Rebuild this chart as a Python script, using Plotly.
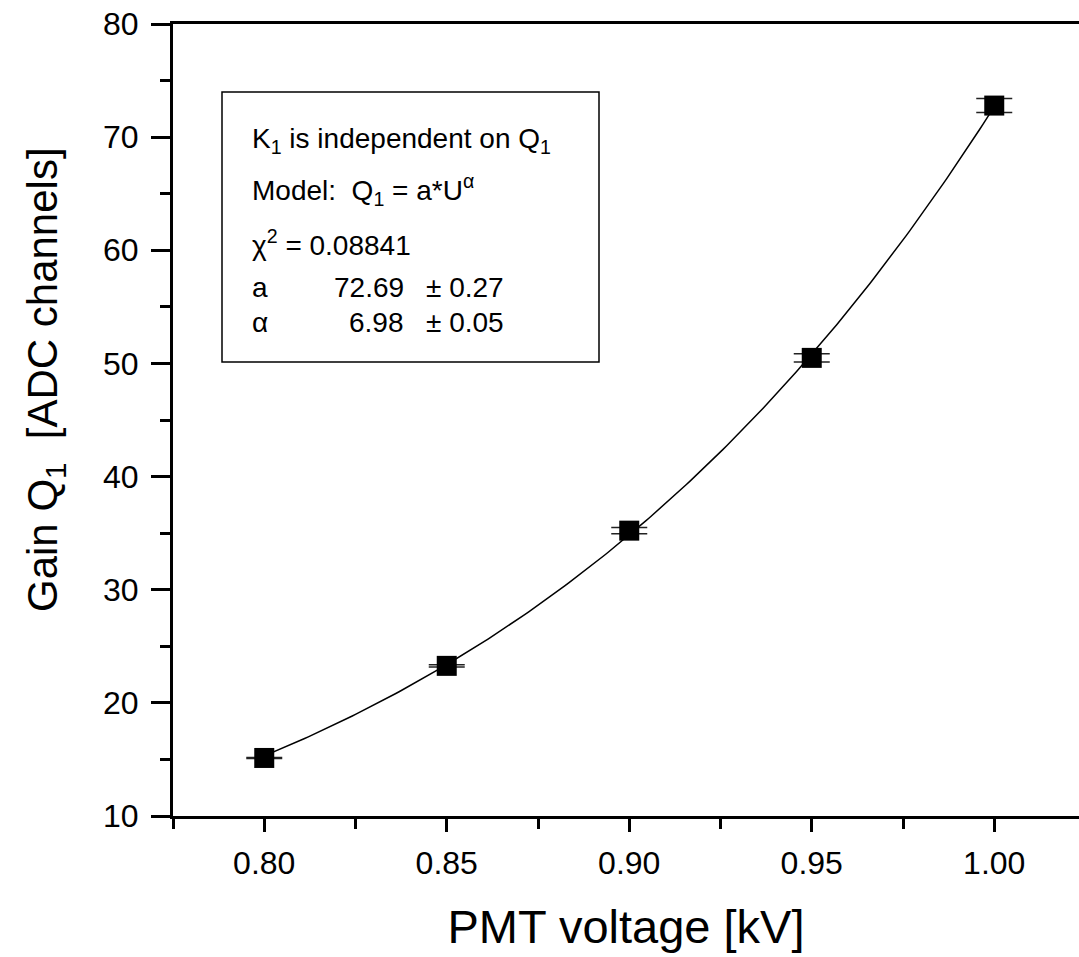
import numpy as np
import plotly.graph_objects as go

# Measured gain vs. PMT high voltage
voltage_kv = [0.80, 0.85, 0.90, 0.95, 1.00]
gain_q1 = [15.13, 23.27, 35.22, 50.49, 72.79]
gain_err = [0.05, 0.10, 0.27, 0.37, 0.62]

# Power-law fit parameters Q1 = a * U^alpha
fit_a = 72.69
fit_a_err = 0.27
fit_alpha = 6.98
fit_alpha_err = 0.05
fit_chi2 = 0.08841

x_ticks = [0.80, 0.85, 0.90, 0.95, 1.00]
x_ticktext = ["0.80", "0.85", "0.90", "0.95", "1.00"]
y_ticks = [10, 20, 30, 40, 50, 60, 70, 80]

FONT = "Liberation Sans, Arial, Helvetica, sans-serif"

u_fit = np.linspace(voltage_kv[0], voltage_kv[-1], 200)
q_fit = fit_a * u_fit ** fit_alpha

fig = go.Figure()
fig.add_trace(go.Scatter(
    x=u_fit, y=q_fit, mode="lines",
    line=dict(color="black", width=1.5),
    hoverinfo="skip", showlegend=False,
))
fig.add_trace(go.Scatter(
    x=voltage_kv, y=gain_q1, mode="markers",
    marker=dict(symbol="square", size=20, color="black", line=dict(width=0)),
    error_y=dict(type="data", array=gain_err, visible=True,
                 color="#222222", thickness=1.5, width=18),
    showlegend=False,
))

# plot-area geometry in pixels (used to place the text box)
L, R, T, B = 173, 1079, 24, 816
PW, PH = R - L, B - T


def px(xp):
    return (xp - L) / PW


def py(yp):
    return (B - yp) / PH


fig.add_shape(type="rect", xref="paper", yref="paper",
              x0=px(222), x1=px(599), y0=py(362), y1=py(92),
              line=dict(color="black", width=1.5), fillcolor="white", layer="below")

box_font = dict(family=FONT, size=28, color="black")
lines = [
    (140, "K<sub>1</sub> is independent on Q<sub>1</sub>"),
    (190, "Model:  Q<sub>1</sub> = a*U<sup>α</sup>"),
    (243, f"χ<sup>2</sup> = {fit_chi2:.5f}"),
    (287, "a"),
    (322, "α"),
]
for yc, txt in lines:
    fig.add_annotation(xref="paper", yref="paper", x=px(250), y=py(yc),
                       xanchor="left", yanchor="middle", text=txt,
                       showarrow=False, font=box_font)

for yc, val, err in [(287, fit_a, fit_a_err), (322, fit_alpha, fit_alpha_err)]:
    fig.add_annotation(xref="paper", yref="paper", x=px(406), y=py(yc),
                       xanchor="right", yanchor="middle", text=f"{val:.2f}",
                       showarrow=False, font=box_font)
    fig.add_annotation(xref="paper", yref="paper", x=px(424), y=py(yc),
                       xanchor="left", yanchor="middle", text=f"± {err:.2f}",
                       showarrow=False, font=box_font)

# y-axis title
fig.add_annotation(xref="paper", yref="paper", x=0, xshift=-(L - 45), y=py(380),
                   xanchor="center", yanchor="middle", textangle=-90,
                   text="Gain Q<sub>1</sub>&nbsp; [ADC channels]", showarrow=False,
                   font=dict(family=FONT, size=42, color="black"))

fig.update_layout(
    width=1079, height=957,
    margin=dict(l=L, r=1079 - R, t=T, b=957 - B),
    paper_bgcolor="white", plot_bgcolor="white",
    font=dict(family=FONT, color="black"),
)
fig.update_xaxes(
    range=[0.775, 0.775 + 0.05 * PW / 182.5],
    tickvals=x_ticks, ticktext=x_ticktext,
    ticks="outside", ticklen=13, tickwidth=3, tickcolor="black",
    minor=dict(tickvals=[0.775, 0.825, 0.875, 0.925, 0.975, 1.025],
               ticks="outside", ticklen=10, tickwidth=3, tickcolor="black"),
    showline=True, linewidth=3, linecolor="black", mirror=True,
    showgrid=False, zeroline=False,
    tickfont=dict(family=FONT, size=32, color="black"),
    ticklabelstandoff=4,
    title=dict(text="PMT voltage [kV]", font=dict(family=FONT, size=47, color="black"),
               standoff=30),
)
fig.update_yaxes(
    range=[10, 80], tickvals=y_ticks,
    ticks="outside", ticklen=19, tickwidth=3, tickcolor="black",
    minor=dict(dtick=5, tick0=10, ticks="outside", ticklen=10, tickwidth=3,
               tickcolor="black"),
    showline=True, linewidth=3, linecolor="black", mirror=False,
    showgrid=False, zeroline=False,
    tickfont=dict(family=FONT, size=32, color="black"),
    ticklabelstandoff=6,
)

fig.write_html("out.html")
